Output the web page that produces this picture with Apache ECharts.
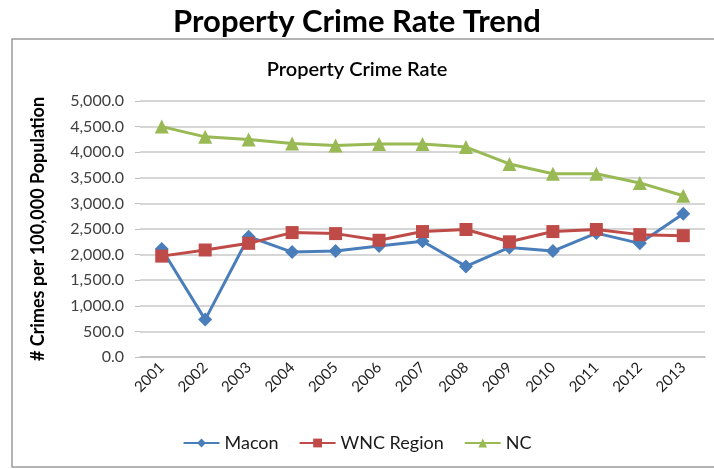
<!DOCTYPE html>
<html>
<head>
<meta charset="utf-8">
<script src="https://cdn.jsdelivr.net/npm/echarts@6/dist/echarts.min.js"></script>
<style>
  html, body { margin: 0; padding: 0; background: #fff; }
  #chart { width: 714px; height: 469px; }
</style>
</head>
<body>
<div id="chart"></div>
<script>
// data
let years = ['2001', '2002', '2003', '2004', '2005', '2006', '2007', '2008', '2009', '2010', '2011', '2012', '2013'];
let macon = [2110, 730, 2350, 2050, 2070, 2170, 2260, 1770, 2140, 2070, 2420, 2220, 2800];
let wncRegion = [1970, 2090, 2220, 2430, 2410, 2280, 2450, 2490, 2250, 2450, 2490, 2390, 2370];
let nc = [4500, 4300, 4250, 4170, 4130, 4160, 4160, 4100, 3770, 3580, 3580, 3400, 3150];

const FONT = 'Lato, "Open Sans", sans-serif';

function lineSeries(name, data, color, symbol, size){
    return {
        name: name,
        type: 'line',
        data: data,
        symbol: symbol,
        symbolSize: size,
        lineStyle: { color: color, width: 3 },
        itemStyle: { color: color },
        emphasis: { disabled: true }
    };
}

let chart = echarts.init(document.getElementById('chart'));
chart.setOption({
    animation: false,
    textStyle: { fontFamily: FONT },
    title: [{
        text: 'Property Crime Rate Trend',
        left: 'center',
        top: 1,
        textStyle: { fontSize: 31, fontWeight: 'bold', color: '#000', fontFamily: FONT }
    }, {
        text: 'Property Crime Rate',
        left: 'center',
        top: 55,
        textStyle: { fontSize: 20, fontWeight: 600, color: '#000', fontFamily: FONT }
    }],
    graphic: [{
        type: 'rect',
        shape: { x: 12, y: 39, width: 720, height: 428 },
        style: { fill: 'none', stroke: '#9a9a9a', lineWidth: 1.5 },
        silent: true
    }],
    legend: {
        bottom: 12,
        left: 'center',
        itemWidth: 36,
        itemHeight: 11,
        itemGap: 20,
        textStyle: { fontSize: 18, color: '#1a1a1a', fontFamily: FONT },
        data: ['Macon', 'WNC Region', 'NC']
    },
    grid: { left: 140, right: 9, top: 101, bottom: 112 },
    xAxis: {
        type: 'category',
        data: years,
        boundaryGap: true,
        axisLine: { lineStyle: { color: '#bfbfbf', width: 1.5 } },
        axisTick: { show: false },
        axisLabel: { rotate: 45, fontSize: 15, color: '#222', margin: 8 }
    },
    yAxis: {
        type: 'value',
        min: 0,
        max: 5000,
        interval: 500,
        name: '# Crimes per 100,000 Population',
        nameLocation: 'middle',
        nameGap: 93,
        nameTextStyle: { fontSize: 18, fontWeight: 'bold', color: '#000' },
        axisLine: { show: false },
        axisTick: { show: true, length: 5, lineStyle: { color: '#bfbfbf' } },
        splitLine: { lineStyle: { color: '#c8c8c8', width: 1.5 } },
        axisLabel: {
            fontSize: 16,
            color: '#404040',
            margin: 16,
            formatter: function(v){
                return v.toLocaleString('en-US', { minimumFractionDigits: 1, maximumFractionDigits: 1 });
            }
        }
    },
    series: [
        lineSeries('Macon', macon, '#4a7ebb', 'diamond', 14),
        lineSeries('WNC Region', wncRegion, '#be4b48', 'rect', 13),
        lineSeries('NC', nc, '#98b954', 'triangle', 14)
    ]
});
</script>
</body>
</html>
